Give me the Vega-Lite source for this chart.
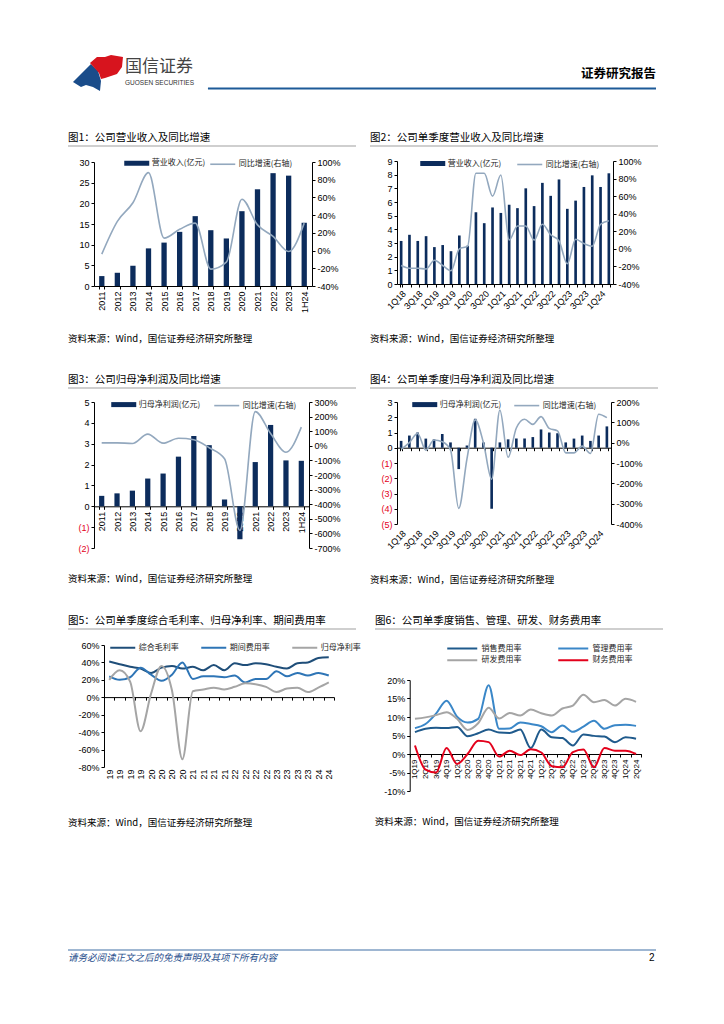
{
  "$schema": "https://vega.github.io/schema/vega-lite/v6.json",
  "background": "white",
  "padding": {"left": 67, "top": 55, "right": 5, "bottom": 5},
  "datasets": {
    "c1": [
      {"p":"2011","rev":2.4,"yoy":-4},{"p":"2012","rev":3.2,"yoy":33},{"p":"2013","rev":4.9,"yoy":54},
      {"p":"2014","rev":9.1,"yoy":88},{"p":"2015","rev":10.5,"yoy":14},{"p":"2016","rev":13.1,"yoy":24},
      {"p":"2017","rev":16.9,"yoy":31},{"p":"2018","rev":13.5,"yoy":-21},{"p":"2019","rev":11.5,"yoy":-13},
      {"p":"2020","rev":18.1,"yoy":58},{"p":"2021","rev":23.4,"yoy":29},{"p":"2022","rev":27.3,"yoy":16},
      {"p":"2023","rev":26.7,"yoy":-1},{"p":"1H24","rev":15.3,"yoy":31}
    ],
    "c2": [
      {"q":"1Q18","rev":3.15,"yoy":-19},{"q":"2Q18","rev":3.6,"yoy":-22},{"q":"3Q18","rev":3.15,"yoy":-22},{"q":"4Q18","rev":3.5,"yoy":-23},
      {"q":"1Q19","rev":2.7,"yoy":-13},{"q":"2Q19","rev":2.85,"yoy":-19},{"q":"3Q19","rev":2.4,"yoy":-25},{"q":"4Q19","rev":3.55,"yoy":0},
      {"q":"1Q20","rev":2.8,"yoy":3},{"q":"2Q20","rev":5.25,"yoy":86},{"q":"3Q20","rev":4.45,"yoy":86},{"q":"4Q20","rev":5.6,"yoy":60},
      {"q":"1Q21","rev":5.2,"yoy":84},{"q":"2Q21","rev":5.8,"yoy":10},{"q":"3Q21","rev":5.55,"yoy":26},{"q":"4Q21","rev":7.0,"yoy":26},
      {"q":"1Q22","rev":5.7,"yoy":10},{"q":"2Q22","rev":7.4,"yoy":28},{"q":"3Q22","rev":6.45,"yoy":16},{"q":"4Q22","rev":7.65,"yoy":9},
      {"q":"1Q23","rev":5.5,"yoy":-17},{"q":"2Q23","rev":6.1,"yoy":11},{"q":"3Q23","rev":7.1,"yoy":6},{"q":"4Q23","rev":7.95,"yoy":3},
      {"q":"1Q24","rev":7.1,"yoy":28},{"q":"2Q24","rev":8.1,"yoy":32}
    ],
    "c3": [
      {"p":"2011","np":0.5,"yoy":20},{"p":"2012","np":0.62,"yoy":20},{"p":"2013","np":0.75,"yoy":16},
      {"p":"2014","np":1.33,"yoy":80},{"p":"2015","np":1.57,"yoy":18},{"p":"2016","np":2.38,"yoy":52},
      {"p":"2017","np":3.37,"yoy":42},{"p":"2018","np":2.93,"yoy":-13},{"p":"2019","np":0.33,"yoy":-89},
      {"p":"2020","np":-1.58,"yoy":-580},{"p":"2021","np":2.12,"yoy":234},{"p":"2022","np":3.9,"yoy":84},
      {"p":"2023","np":2.2,"yoy":-44},{"p":"1H24","np":2.18,"yoy":128}
    ],
    "c4": [
      {"q":"1Q18","np":0.45,"yoy":-33},{"q":"2Q18","np":0.8,"yoy":0},{"q":"3Q18","np":1.0,"yoy":45},{"q":"4Q18","np":0.6,"yoy":-37},
      {"q":"1Q19","np":0.55,"yoy":13},{"q":"2Q19","np":0.9,"yoy":5},{"q":"3Q19","np":0.35,"yoy":-35},{"q":"4Q19","np":-1.4,"yoy":-323},
      {"q":"1Q20","np":0.15,"yoy":-80},{"q":"2Q20","np":1.9,"yoy":112},{"q":"3Q20","np":0.35,"yoy":0},{"q":"4Q20","np":-4.0,"yoy":-180},
      {"q":"1Q21","np":0.35,"yoy":160},{"q":"2Q21","np":0.55,"yoy":-72},{"q":"3Q21","np":0.6,"yoy":72},{"q":"4Q21","np":0.6,"yoy":115},
      {"q":"1Q22","np":0.7,"yoy":90},{"q":"2Q22","np":1.2,"yoy":128},{"q":"3Q22","np":1.0,"yoy":70},{"q":"4Q22","np":0.95,"yoy":58},
      {"q":"1Q23","np":0.35,"yoy":-50},{"q":"2Q23","np":0.6,"yoy":-50},{"q":"3Q23","np":0.8,"yoy":-17},{"q":"4Q23","np":0.45,"yoy":-53},
      {"q":"1Q24","np":0.8,"yoy":140},{"q":"2Q24","np":1.4,"yoy":123}
    ],
    "c5": [
      {"q":"1Q19","综合毛利率":41,"期间费用率":24,"归母净利率":20},
      {"q":"2Q19","综合毛利率":38,"期间费用率":20,"归母净利率":31},
      {"q":"3Q19","综合毛利率":35,"期间费用率":23,"归母净利率":18},
      {"q":"4Q19","综合毛利率":33,"期间费用率":34,"归母净利率":-39},
      {"q":"1Q20","综合毛利率":28,"期间费用率":26,"归母净利率":4},
      {"q":"2Q20","综合毛利率":34,"期间费用率":19,"归母净利率":36},
      {"q":"3Q20","综合毛利率":36,"期间费用率":26,"归母净利率":8},
      {"q":"4Q20","综合毛利率":33,"期间费用率":40,"归母净利率":-71},
      {"q":"1Q21","综合毛利率":35,"期间费用率":21,"归母净利率":7},
      {"q":"2Q21","综合毛利率":31,"期间费用率":24,"归母净利率":9},
      {"q":"3Q21","综合毛利率":37,"期间费用率":24,"归母净利率":11},
      {"q":"4Q21","综合毛利率":31,"期间费用率":23,"归母净利率":9},
      {"q":"1Q22","综合毛利率":39,"期间费用率":25,"归母净利率":12},
      {"q":"2Q22","综合毛利率":37,"期间费用率":17,"归母净利率":16},
      {"q":"3Q22","综合毛利率":39,"期间费用率":21,"归母净利率":15},
      {"q":"4Q22","综合毛利率":38,"期间费用率":21,"归母净利率":12},
      {"q":"1Q23","综合毛利率":35,"期间费用率":30,"归母净利率":6},
      {"q":"2Q23","综合毛利率":33,"期间费用率":24,"归母净利率":10},
      {"q":"3Q23","综合毛利率":39,"期间费用率":28,"归母净利率":11},
      {"q":"4Q23","综合毛利率":40,"期间费用率":25,"归母净利率":6},
      {"q":"1Q24","综合毛利率":45,"期间费用率":28,"归母净利率":11},
      {"q":"2Q24","综合毛利率":46,"期间费用率":25,"归母净利率":17}
    ],
    "c6": [
      {"q":"1Q19","销售费用率":5.9,"管理费用率":7.0,"研发费用率":9.5,"财务费用率":2.3},
      {"q":"2Q19","销售费用率":6.8,"管理费用率":8.1,"研发费用率":9.9,"财务费用率":-4.2},
      {"q":"3Q19","销售费用率":7.1,"管理费用率":10.9,"研发费用率":10.5,"财务费用率":-5.0},
      {"q":"4Q19","销售费用率":7.0,"管理费用率":14.4,"研发费用率":11.3,"财务费用率":1.6},
      {"q":"1Q20","销售费用率":7.3,"管理费用率":10.1,"研发费用率":9.5,"财务费用率":-2.7},
      {"q":"2Q20","销售费用率":4.8,"管理费用率":8.5,"研发费用率":6.5,"财务费用率":0.0},
      {"q":"3Q20","销售费用率":5.6,"管理费用率":9.5,"研发费用率":8.3,"财务费用率":3.6},
      {"q":"4Q20","销售费用率":6.6,"管理费用率":18.6,"研发费用率":12.5,"财务费用率":3.2},
      {"q":"1Q21","销售费用率":5.8,"管理费用率":6.8,"研发费用率":9.6,"财务费用率":-0.7},
      {"q":"2Q21","销售费用率":5.7,"管理费用率":6.9,"研发费用率":11.1,"财务费用率":0.9},
      {"q":"3Q21","销售费用率":6.6,"管理费用率":8.5,"研发费用率":10.4,"财务费用率":-0.3},
      {"q":"4Q21","销售费用率":1.6,"管理费用率":8.1,"研发费用率":12.0,"财务费用率":1.3},
      {"q":"1Q22","销售费用率":6.6,"管理费用率":7.5,"研发费用率":11.0,"财务费用率":0.4},
      {"q":"2Q22","销售费用率":4.5,"管理费用率":5.9,"研发费用率":10.4,"财务费用率":-3.3},
      {"q":"3Q22","销售费用率":4.3,"管理费用率":7.7,"研发费用率":12.3,"财务费用率":-3.6},
      {"q":"4Q22","销售费用率":2.3,"管理费用率":6.0,"研发费用率":13.1,"财务费用率":0.5},
      {"q":"1Q23","销售费用率":5.3,"管理费用率":7.4,"研发费用率":16.0,"财务费用率":1.2},
      {"q":"2Q23","销售费用率":4.9,"管理费用率":9.0,"研发费用率":14.0,"财务费用率":-3.6},
      {"q":"3Q23","销售费用率":4.7,"管理费用率":6.8,"研发费用率":14.6,"财务费用率":1.6},
      {"q":"4Q23","销售费用率":3.2,"管理费用率":7.8,"研发费用率":13.1,"财务费用率":0.9},
      {"q":"1Q24","销售费用率":4.5,"管理费用率":7.9,"研发费用率":14.9,"财务费用率":0.9},
      {"q":"2Q24","销售费用率":4.1,"管理费用率":7.6,"研发费用率":14.1,"财务费用率":0.0}
    ]
  },
  "columns": 1,
  "align": "none",
  "spacing": 121,
  "resolve": {"scale": {"fill": "independent", "stroke": "independent", "color": "independent"}},
  "concat": [
    {
      "columns": 1,
      "align": "none",
      "spacing": 41,
      "resolve": {"scale": {"fill": "independent", "stroke": "independent", "color": "independent"}},
      "concat": [
        {
          "width": 562, "height": 35,
          "data": {"values": [{}]},
          "layer": [
            {"mark": {"type": "rule", "color": "#1d5a98", "strokeWidth": 2},
             "encoding": {
               "x": {"datum": 0.238, "type": "quantitative", "scale": {"domain": [0, 1], "range": [-26, 562]}, "axis": null},
               "x2": {"datum": 1},
               "y": {"datum": 0.96, "type": "quantitative", "scale": {"domain": [0, 1], "reverse": true}, "axis": null}}},
            {"mark": {"type": "point", "filled": true, "opacity": 1, "color": "#1a4c8a", "size": 2500,
                      "shape": "M-1,0.34L-0.28,-0.38L0,-0.1L0.12,0.3L0.08,0.7L-0.2,0.54L-0.48,0.46L-0.68,0.54Z"},
             "encoding": {
               "x": {"datum": 0.051, "type": "quantitative", "scale": {"domain": [0, 1], "range": [-26, 562]}, "axis": null},
               "y": {"datum": 0.53, "type": "quantitative", "scale": {"domain": [0, 1], "reverse": true}, "axis": null}}},
            {"mark": {"type": "point", "filled": true, "opacity": 1, "color": "#d7141e", "size": 2500,
                      "shape": "M-0.32,-0.42L-0.04,-0.66L0.28,-0.66L0.52,-0.74L1,-0.66L0.96,-0.26L0.76,0.02L0.28,0.18L0.12,0.22L0.04,-0.02Z"},
             "encoding": {
               "x": {"datum": 0.051, "type": "quantitative", "scale": {"domain": [0, 1], "range": [-26, 562]}, "axis": null},
               "y": {"datum": 0.53, "type": "quantitative", "scale": {"domain": [0, 1], "reverse": true}, "axis": null}}},
            {"mark": {"type": "text", "text": "国信证券", "align": "left", "baseline": "middle", "fontSize": 17, "color": "#444", "font": "Noto Sans CJK SC"},
             "encoding": {
               "x": {"datum": 0.097, "type": "quantitative", "scale": {"domain": [0, 1], "range": [-26, 562]}, "axis": null},
               "y": {"datum": 0.343, "type": "quantitative", "scale": {"domain": [0, 1], "reverse": true}, "axis": null}}},
            {"mark": {"type": "text", "text": "GUOSEN SECURITIES", "align": "left", "baseline": "middle", "fontSize": 6.5, "color": "#333", "font": "Liberation Sans"},
             "encoding": {
               "x": {"datum": 0.097, "type": "quantitative", "scale": {"domain": [0, 1], "range": [-26, 562]}, "axis": null},
               "y": {"datum": 0.814, "type": "quantitative", "scale": {"domain": [0, 1], "reverse": true}, "axis": null}}},
            {"mark": {"type": "text", "text": "证券研究报告", "align": "right", "baseline": "middle", "fontSize": 12.5, "fontWeight": "bold", "color": "#000", "font": "Noto Sans CJK SC"},
             "encoding": {
               "x": {"datum": 1, "type": "quantitative", "scale": {"domain": [0, 1], "range": [-26, 562]}, "axis": null},
               "y": {"datum": 0.543, "type": "quantitative", "scale": {"domain": [0, 1], "reverse": true}, "axis": null}}}
          ]
        },
        {
          "columns": 1,
          "align": "none",
          "spacing": 31,
          "resolve": {"scale": {"fill": "independent", "stroke": "independent", "color": "independent"}},
          "concat": [
            {
              "columns": 2, "align": "none", "spacing": 12,
              "resolve": {"scale": {"fill": "independent", "stroke": "independent", "color": "independent"}},
              "concat": [
                {
                  "columns": 1, "align": "none", "spacing": 9,
                  "resolve": {"scale": {"fill": "independent", "stroke": "independent", "color": "independent"}},
                  "concat": [
                    {"width": 262, "height": 1, "data": {"values": [{}]},
                     "layer": [
                       {"mark": {"type": "rule", "color": "#a0a0a0", "strokeWidth": 1.2},
                        "encoding": {
                          "x": {"datum": 0, "type": "quantitative", "scale": {"domain": [0, 1], "range": [-26, 262]}, "axis": null},
                          "x2": {"datum": 1},
                          "y": {"datum": 0, "type": "quantitative", "scale": {"domain": [0, 1]}, "axis": null}}},
                       {"mark": {"type": "text", "text": "图1：公司营业收入及同比增速", "align": "left", "baseline": "bottom", "dy": -2, "fontSize": 10.5, "color": "#000"},
                        "encoding": {
                          "x": {"datum": 0, "type": "quantitative", "scale": {"domain": [0, 1], "range": [-26, 262]}, "axis": null},
                          "y": {"datum": 1, "type": "quantitative", "scale": {"domain": [0, 1]}, "axis": null}}}
                     ]},
                    {"width": 218, "height": 124, "data": {"name": "c1"},
                     "title": {"text": "资料来源：Wind，国信证券经济研究所整理", "orient": "bottom", "frame": "bounds", "fontSize": 9.5, "offset": 21},
                     "layer": [
                       {"mark": {"type": "bar"},
                        "encoding": {
                          "x": {"field": "p", "type": "ordinal", "sort": null, "title": null, "scale": {"paddingInner": 0.66, "paddingOuter": 0.33},
                                "axis": {"labelAngle": -90, "tickBand": "extent"}},
                          "y": {"field": "rev", "type": "quantitative", "title": null, "scale": {"domain": [0, 30], "nice": false},
                                "axis": {"values": [0, 5, 10, 15, 20, 25, 30], "minExtent": 26}},
                          "fill": {"datum": "营业收入(亿元)", "type": "nominal", "scale": {"range": ["#0c2c5c"]},
                                   "legend": {"orient": "none", "legendX": 36.25, "legendY": -5.25, "symbolType": "M-2,-0.4H2V0.4H-2Z", "symbolSize": 156.25, "symbolStrokeWidth": 0, "labelOffset": 8.5}}}},
                       {"mark": {"type": "line", "interpolate": "monotone", "strokeWidth": 1.6},
                        "encoding": {
                          "x": {"field": "p", "type": "ordinal", "sort": null},
                          "y": {"field": "yoy", "type": "quantitative", "title": null, "scale": {"domain": [-40, 100], "nice": false},
                                "axis": {"orient": "right", "values": [-40, -20, 0, 20, 40, 60, 80, 100], "labelExpr": "datum.value + '%'", "minExtent": 44}},
                          "stroke": {"datum": "同比增速(右轴)", "type": "nominal", "scale": {"range": ["#93a8be"]},
                                     "legend": {"orient": "none", "legendX": 121.25, "legendY": -5.25, "symbolType": "M-2,0H2", "symbolSize": 156.25, "symbolStrokeWidth": 1.6, "labelOffset": 8.5}}}}
                     ],
                     "resolve": {"scale": {"y": "independent"}}}
                  ]
                },
                {
                  "columns": 1, "align": "none", "spacing": 10,
                  "resolve": {"scale": {"fill": "independent", "stroke": "independent", "color": "independent"}},
                  "concat": [
                    {"width": 261, "height": 1, "data": {"values": [{}]},
                     "layer": [
                       {"mark": {"type": "rule", "color": "#a0a0a0", "strokeWidth": 1.2},
                        "encoding": {
                          "x": {"datum": 0, "type": "quantitative", "scale": {"domain": [0, 1], "range": [-27, 261]}, "axis": null},
                          "x2": {"datum": 1},
                          "y": {"datum": 0, "type": "quantitative", "scale": {"domain": [0, 1]}, "axis": null}}},
                       {"mark": {"type": "text", "text": "图2：公司单季度营业收入及同比增速", "align": "left", "baseline": "bottom", "dy": -2, "fontSize": 10.5, "color": "#000"},
                        "encoding": {
                          "x": {"datum": 0, "type": "quantitative", "scale": {"domain": [0, 1], "range": [-27, 261]}, "axis": null},
                          "y": {"datum": 1, "type": "quantitative", "scale": {"domain": [0, 1]}, "axis": null}}}
                     ]},
                    {"width": 216, "height": 123, "data": {"name": "c2"},
                     "title": {"text": "资料来源：Wind，国信证券经济研究所整理", "orient": "bottom", "frame": "bounds", "fontSize": 9.5, "offset": 23},
                     "layer": [
                       {"mark": {"type": "bar"},
                        "encoding": {
                          "x": {"field": "q", "type": "ordinal", "sort": null, "title": null, "scale": {"paddingInner": 0.68, "paddingOuter": 0.34},
                                "axis": {"labelAngle": -45, "tickBand": "extent", "labelExpr": "(substring(datum.value,0,1)=='1' || substring(datum.value,0,1)=='3') ? datum.value : ''"}},
                          "y": {"field": "rev", "type": "quantitative", "title": null, "scale": {"domain": [0, 9], "nice": false},
                                "axis": {"values": [0, 1, 2, 3, 4, 5, 6, 7, 8, 9], "minExtent": 27}},
                          "fill": {"datum": "营业收入(亿元)", "type": "nominal", "scale": {"range": ["#0c2c5c"]},
                                   "legend": {"orient": "none", "legendX": 29.25, "legendY": -4, "symbolType": "M-2,-0.4H2V0.4H-2Z", "symbolSize": 156.25, "symbolStrokeWidth": 0, "labelOffset": 8.5}}}},
                       {"mark": {"type": "line", "interpolate": "monotone", "strokeWidth": 1.6},
                        "encoding": {
                          "x": {"field": "q", "type": "ordinal", "sort": null},
                          "y": {"field": "yoy", "type": "quantitative", "title": null, "scale": {"domain": [-40, 100], "nice": false},
                                "axis": {"orient": "right", "values": [-40, -20, 0, 20, 40, 60, 80, 100], "labelExpr": "datum.value + '%'", "minExtent": 45}},
                          "stroke": {"datum": "同比增速(右轴)", "type": "nominal", "scale": {"range": ["#93a8be"]},
                                     "legend": {"orient": "none", "legendX": 125.25, "legendY": -4, "symbolType": "M-2,0H2", "symbolSize": 156.25, "symbolStrokeWidth": 1.6, "labelOffset": 8.5}}}}
                     ],
                     "resolve": {"scale": {"y": "independent"}}}
                  ]
                }
              ]
            },
            {
              "columns": 2, "align": "none", "spacing": 12,
              "resolve": {"scale": {"fill": "independent", "stroke": "independent", "color": "independent"}},
              "concat": [
                {
                  "columns": 1, "align": "none", "spacing": 9,
                  "resolve": {"scale": {"fill": "independent", "stroke": "independent", "color": "independent"}},
                  "concat": [
                    {"width": 262, "height": 1, "data": {"values": [{}]},
                     "layer": [
                       {"mark": {"type": "rule", "color": "#a0a0a0", "strokeWidth": 1.2},
                        "encoding": {
                          "x": {"datum": 0, "type": "quantitative", "scale": {"domain": [0, 1], "range": [-26, 262]}, "axis": null},
                          "x2": {"datum": 1},
                          "y": {"datum": 0, "type": "quantitative", "scale": {"domain": [0, 1]}, "axis": null}}},
                       {"mark": {"type": "text", "text": "图3：公司归母净利润及同比增速", "align": "left", "baseline": "bottom", "dy": -2, "fontSize": 10.5, "color": "#000"},
                        "encoding": {
                          "x": {"datum": 0, "type": "quantitative", "scale": {"domain": [0, 1], "range": [-26, 262]}, "axis": null},
                          "y": {"datum": 1, "type": "quantitative", "scale": {"domain": [0, 1]}, "axis": null}}}
                     ]},
                    {"width": 215, "height": 146, "data": {"name": "c3"},
                     "title": {"text": "资料来源：Wind，国信证券经济研究所整理", "orient": "bottom", "frame": "bounds", "fontSize": 9.5, "offset": 21},
                     "layer": [
                       {"mark": {"type": "bar"},
                        "encoding": {
                          "x": {"field": "p", "type": "ordinal", "sort": null, "title": null, "scale": {"paddingInner": 0.66, "paddingOuter": 0.33},
                                "axis": {"labelAngle": -90, "tickBand": "extent", "offset": -41.7}},
                          "y": {"field": "np", "type": "quantitative", "title": null, "scale": {"domain": [-2, 5], "nice": false},
                                "axis": {"values": [-2, -1, 0, 1, 2, 3, 4, 5], "minExtent": 26,
                                         "labelExpr": "datum.value < 0 ? '(' + abs(datum.value) + ')' : '' + datum.value",
                                         "labelColor": {"condition": {"test": "datum.value < 0", "value": "#e3001b"}, "value": "#000"}}},
                          "fill": {"datum": "归母净利润(亿元)", "type": "nominal", "scale": {"range": ["#0c2c5c"]},
                                   "legend": {"orient": "none", "legendX": 23.25, "legendY": -3.9, "symbolType": "M-2,-0.4H2V0.4H-2Z", "symbolSize": 156.25, "symbolStrokeWidth": 0, "labelOffset": 8.5}}}},
                       {"mark": {"type": "line", "interpolate": "monotone", "strokeWidth": 1.6},
                        "encoding": {
                          "x": {"field": "p", "type": "ordinal", "sort": null},
                          "y": {"field": "yoy", "type": "quantitative", "title": null, "scale": {"domain": [-700, 300], "nice": false},
                                "axis": {"orient": "right", "values": [-700, -600, -500, -400, -300, -200, -100, 0, 100, 200, 300], "labelExpr": "datum.value + '%'", "minExtent": 46}},
                          "stroke": {"datum": "同比增速(右轴)", "type": "nominal", "scale": {"range": ["#93a8be"]},
                                     "legend": {"orient": "none", "legendX": 125.25, "legendY": -3.9, "symbolType": "M-2,0H2", "symbolSize": 156.25, "symbolStrokeWidth": 1.6, "labelOffset": 8.5}}}}
                     ],
                     "resolve": {"scale": {"y": "independent"}}}
                  ]
                },
                {
                  "columns": 1, "align": "none", "spacing": 9,
                  "resolve": {"scale": {"fill": "independent", "stroke": "independent", "color": "independent"}},
                  "concat": [
                    {"width": 261, "height": 1, "data": {"values": [{}]},
                     "layer": [
                       {"mark": {"type": "rule", "color": "#a0a0a0", "strokeWidth": 1.2},
                        "encoding": {
                          "x": {"datum": 0, "type": "quantitative", "scale": {"domain": [0, 1], "range": [-27, 261]}, "axis": null},
                          "x2": {"datum": 1},
                          "y": {"datum": 0, "type": "quantitative", "scale": {"domain": [0, 1]}, "axis": null}}},
                       {"mark": {"type": "text", "text": "图4：公司单季度归母净利润及同比增速", "align": "left", "baseline": "bottom", "dy": -2, "fontSize": 10.5, "color": "#000"},
                        "encoding": {
                          "x": {"datum": 0, "type": "quantitative", "scale": {"domain": [0, 1], "range": [-27, 261]}, "axis": null},
                          "y": {"datum": 1, "type": "quantitative", "scale": {"domain": [0, 1]}, "axis": null}}}
                     ]},
                    {"width": 214, "height": 122, "data": {"name": "c4"},
                     "title": {"text": "资料来源：Wind，国信证券经济研究所整理", "orient": "bottom", "frame": "bounds", "fontSize": 9.5, "offset": 24},
                     "layer": [
                       {"mark": {"type": "bar"},
                        "encoding": {
                          "x": {"field": "q", "type": "ordinal", "sort": null, "title": null, "scale": {"paddingInner": 0.68, "paddingOuter": 0.34},
                                "axis": {"labelAngle": -45, "tickBand": "extent", "offset": -76.3, "labelPadding": 78,
                                         "labelExpr": "(substring(datum.value,0,1)=='1' || substring(datum.value,0,1)=='3') ? datum.value : ''"}},
                          "y": {"field": "np", "type": "quantitative", "title": null, "scale": {"domain": [-5, 3], "nice": false},
                                "axis": {"values": [-5, -4, -3, -2, -1, 0, 1, 2, 3], "minExtent": 27,
                                         "labelExpr": "datum.value < 0 ? '(' + abs(datum.value) + ')' : '' + datum.value",
                                         "labelColor": {"condition": {"test": "datum.value < 0", "value": "#e3001b"}, "value": "#000"}}},
                          "fill": {"datum": "归母净利润(亿元)", "type": "nominal", "scale": {"range": ["#0c2c5c"]},
                                   "legend": {"orient": "none", "legendX": 21.25, "legendY": -3.9, "symbolType": "M-2,-0.4H2V0.4H-2Z", "symbolSize": 156.25, "symbolStrokeWidth": 0, "labelOffset": 8.5}}}},
                       {"mark": {"type": "line", "interpolate": "monotone", "strokeWidth": 1.6},
                        "encoding": {
                          "x": {"field": "q", "type": "ordinal", "sort": null},
                          "y": {"field": "yoy", "type": "quantitative", "title": null, "scale": {"domain": [-400, 200], "nice": false},
                                "axis": {"orient": "right", "values": [-400, -300, -200, -100, 0, 100, 200], "labelExpr": "datum.value + '%'", "minExtent": 47}},
                          "stroke": {"datum": "同比增速(右轴)", "type": "nominal", "scale": {"range": ["#93a8be"]},
                                     "legend": {"orient": "none", "legendX": 122.25, "legendY": -3.9, "symbolType": "M-2,0H2", "symbolSize": 156.25, "symbolStrokeWidth": 1.6, "labelOffset": 8.5}}}}
                     ],
                     "resolve": {"scale": {"y": "independent"}}}
                  ]
                }
              ]
            },
            {
              "columns": 2, "align": "none", "spacing": 12,
              "resolve": {"scale": {"fill": "independent", "stroke": "independent", "color": "independent"}},
              "concat": [
                {
                  "columns": 1, "align": "none", "spacing": 10,
                  "resolve": {"scale": {"fill": "independent", "stroke": "independent", "color": "independent"}},
                  "concat": [
                    {"width": 262, "height": 1, "data": {"values": [{}]},
                     "layer": [
                       {"mark": {"type": "rule", "color": "#a0a0a0", "strokeWidth": 1.2},
                        "encoding": {
                          "x": {"datum": 0, "type": "quantitative", "scale": {"domain": [0, 1], "range": [-26, 262]}, "axis": null},
                          "x2": {"datum": 1},
                          "y": {"datum": 0, "type": "quantitative", "scale": {"domain": [0, 1]}, "axis": null}}},
                       {"mark": {"type": "text", "text": "图5：公司单季度综合毛利率、归母净利率、期间费用率", "align": "left", "baseline": "bottom", "dy": -2, "fontSize": 10.5, "color": "#000"},
                        "encoding": {
                          "x": {"datum": 0, "type": "quantitative", "scale": {"domain": [0, 1], "range": [-26, 262]}, "axis": null},
                          "y": {"datum": 1, "type": "quantitative", "scale": {"domain": [0, 1]}, "axis": null}}}
                     ]},
                    {"width": 240, "height": 122, "data": {"name": "c5"},
                     "transform": [{"fold": ["综合毛利率", "期间费用率", "归母净利率"], "as": ["series", "value"]}],
                     "title": {"text": "资料来源：Wind，国信证券经济研究所整理", "orient": "bottom", "frame": "bounds", "fontSize": 9.5, "offset": 39},
                     "mark": {"type": "line", "interpolate": "monotone", "strokeWidth": 2},
                     "encoding": {
                       "x": {"field": "q", "type": "ordinal", "sort": null, "title": null, "scale": {"type": "band", "paddingInner": 0, "paddingOuter": 0, "range": [10, 240]},
                             "axis": {"labelAngle": -90, "tickBand": "extent", "offset": -69.9, "labelPadding": 69, "labelExpr": "slice(datum.label, 2)"}},
                       "y": {"field": "value", "type": "quantitative", "title": null, "scale": {"domain": [-80, 60], "nice": false},
                             "axis": {"values": [-80, -60, -40, -20, 0, 20, 40, 60], "labelExpr": "datum.value + '%'", "minExtent": 36, "offset": -10}},
                       "stroke": {"field": "series", "type": "nominal",
                                  "scale": {"domain": ["综合毛利率", "期间费用率", "归母净利率"], "range": ["#1f4e79", "#2e75b6", "#a5a5a5"]},
                                  "legend": {"orient": "none", "legendX": 21.25, "legendY": -5, "direction": "horizontal", "symbolType": "M-2,0H2", "symbolSize": 156.25, "symbolStrokeWidth": 2, "labelOffset": 8.5, "columnPadding": 18, "title": null}}
                     }}
                  ]
                },
                {
                  "columns": 1, "align": "none", "spacing": 10,
                  "resolve": {"scale": {"fill": "independent", "stroke": "independent", "color": "independent"}},
                  "concat": [
                    {"width": 261, "height": 1, "data": {"values": [{}]},
                     "layer": [
                       {"mark": {"type": "rule", "color": "#a0a0a0", "strokeWidth": 1.2},
                        "encoding": {
                          "x": {"datum": 0, "type": "quantitative", "scale": {"domain": [0, 1], "range": [-27, 261]}, "axis": null},
                          "x2": {"datum": 1},
                          "y": {"datum": 0, "type": "quantitative", "scale": {"domain": [0, 1]}, "axis": null}}},
                       {"mark": {"type": "text", "text": "图6：公司单季度销售、管理、研发、财务费用率", "align": "left", "baseline": "bottom", "dy": -2, "fontSize": 10.5, "color": "#000"},
                        "encoding": {
                          "x": {"datum": 0, "type": "quantitative", "scale": {"domain": [0, 1], "range": [-27, 261]}, "axis": null},
                          "y": {"datum": 1, "type": "quantitative", "scale": {"domain": [0, 1]}, "axis": null}}}
                     ]},
                    {"width": 239.3, "height": 111, "data": {"name": "c6"},
                     "transform": [{"fold": ["销售费用率", "管理费用率", "研发费用率", "财务费用率"], "as": ["series", "value"]}],
                     "title": {"text": "资料来源：Wind，国信证券经济研究所整理", "orient": "bottom", "frame": "bounds", "fontSize": 9.5, "offset": 21},
                     "mark": {"type": "line", "interpolate": "monotone", "strokeWidth": 2},
                     "encoding": {
                       "x": {"field": "q", "type": "ordinal", "sort": null, "title": null, "scale": {"type": "band", "paddingInner": 0, "paddingOuter": 0, "range": [7.7, 239.3]},
                             "axis": {"labelAngle": -90, "tickBand": "extent", "offset": -37, "labelFontSize": 8}},
                       "y": {"field": "value", "type": "quantitative", "title": null, "scale": {"domain": [-10, 20], "nice": false},
                             "axis": {"values": [-10, -5, 0, 5, 10, 15, 20], "labelExpr": "datum.value + '%'", "minExtent": 35, "offset": -7.7}},
                       "stroke": {"field": "series", "type": "nominal",
                                  "scale": {"domain": ["销售费用率", "管理费用率", "研发费用率", "财务费用率"], "range": ["#1f5a8c", "#3a87c8", "#a5a5a5", "#e3001b"]},
                                  "legend": {"orient": "none", "legendX": 52.75, "legendY": -39.25, "direction": "horizontal", "columns": 2, "symbolType": "M-2.4,0H2.4", "symbolSize": 156.25, "symbolStrokeWidth": 2, "labelOffset": 11.75, "columnPadding": 32, "rowPadding": 0, "title": null}}
                     }}
                  ]
                }
              ]
            }
          ]
        }
      ]
    },
    {
      "width": 562, "height": 12,
      "data": {"values": [{}]},
      "layer": [
        {"mark": {"type": "rule", "color": "#3f6fa5", "strokeWidth": 1},
         "encoding": {
           "x": {"datum": 0, "type": "quantitative", "scale": {"domain": [0, 1], "range": [-26, 562]}, "axis": null},
           "x2": {"datum": 1},
           "y": {"datum": 0, "type": "quantitative", "scale": {"domain": [0, 1], "reverse": true}, "axis": null}}},
        {"mark": {"type": "text", "text": "请务必阅读正文之后的免责声明及其项下所有内容", "align": "left", "baseline": "middle", "fontSize": 9.5, "fontStyle": "italic", "color": "#1f4e8c", "font": "Noto Sans CJK SC"},
         "encoding": {
           "x": {"datum": 0, "type": "quantitative", "scale": {"domain": [0, 1], "range": [-26, 562]}, "axis": null},
           "y": {"datum": 0.67, "type": "quantitative", "scale": {"domain": [0, 1], "reverse": true}, "axis": null}}},
        {"mark": {"type": "text", "text": "2", "align": "center", "baseline": "middle", "fontSize": 10, "color": "#000", "font": "Liberation Sans"},
         "encoding": {
           "x": {"datum": 0.993, "type": "quantitative", "scale": {"domain": [0, 1], "range": [-26, 562]}, "axis": null},
           "y": {"datum": 0.67, "type": "quantitative", "scale": {"domain": [0, 1], "reverse": true}, "axis": null}}}
      ]
    }
  ],
  "config": {
    "view": {"stroke": null},
    "font": "Noto Sans CJK SC",
    "axis": {"labelFont": "Liberation Sans", "labelFontSize": 9, "labelColor": "#000", "domainColor": "#000", "tickColor": "#000", "tickSize": 3, "labelPadding": 2, "grid": false},
    "legend": {"labelFont": "Noto Sans CJK SC", "labelFontSize": 8, "labelColor": "#222", "padding": 0, "labelOffset": 3},
    "title": {"font": "Noto Sans CJK SC", "fontWeight": "normal", "color": "#000", "fontSize": 10.5, "anchor": "start"},
    "text": {"font": "Noto Sans CJK SC"}
  }
}
